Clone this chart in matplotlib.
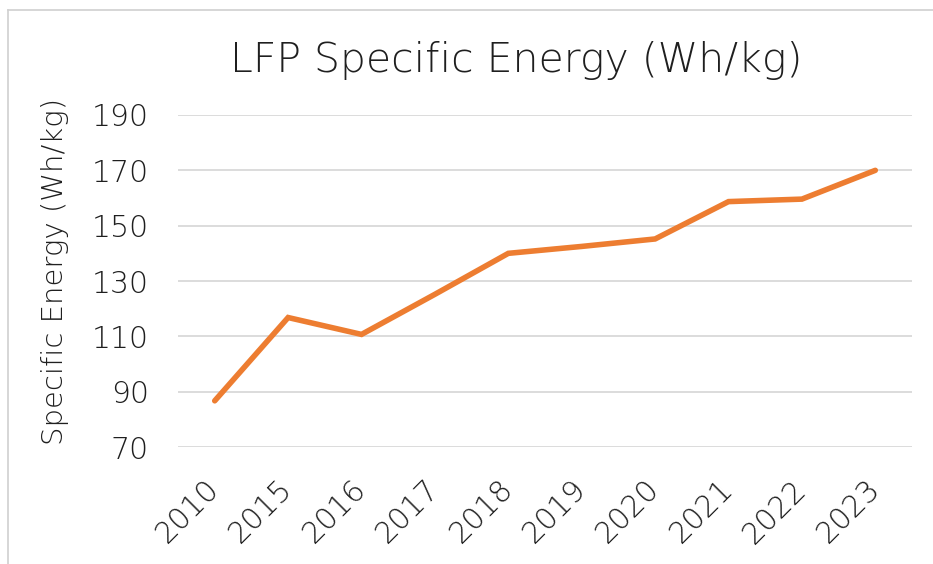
import matplotlib
matplotlib.use("Agg")
import matplotlib.pyplot as plt
from matplotlib.lines import Line2D

years = ["2010", "2015", "2016", "2017", "2018", "2019", "2020", "2021", "2022", "2023"]
energy = [86.7, 116.8, 110.7, 125.2, 140.0, 142.5, 145.2, 158.7, 159.6, 170.0]
yticks = [70, 90, 110, 130, 150, 170, 190]

plt.rcParams["font.family"] = ["DejaVu Sans"]
plt.rcParams["font.weight"] = "light"
plt.rcParams["axes.labelweight"] = "light"
text_color = "#1f1f1f"
grid_color = "#d9d9d9"

fig = plt.figure(figsize=(9.33, 5.64), dpi=100)
ax = fig.add_axes([0.1908, 0.2074, 0.7867, 0.5887])

x = list(range(len(years)))
ax.plot(x, energy, color="#ED7D31", linewidth=4.0, solid_capstyle="round", solid_joinstyle="miter", zorder=3)

ax.set_xlim(-0.5, len(years) - 0.5)
ax.set_ylim(70, 190)
ax.set_yticks(yticks)
ax.set_xticks(x)
ax.set_xticklabels(years, rotation=45, ha="right", va="center", rotation_mode="anchor")
ax.tick_params(axis="both", length=0, labelsize=21.5, colors=text_color)
ax.tick_params(axis="y", pad=21)
ax.tick_params(axis="x", pad=27)
ax.grid(axis="y", color=grid_color, linewidth=1.3)
ax.set_axisbelow(True)
for s in ax.spines.values():
    s.set_visible(False)

ax.set_ylabel("Specific Energy (Wh/kg)", fontsize=21, color=text_color, fontweight="light")
ax.yaxis.set_label_coords(-0.149, 0.53)
fig.text(0.5536, 0.892, "LFP Specific Energy (Wh/kg)", fontsize=29.5, color=text_color, ha="center", va="center")

# light frame around the chart area (left and top edges visible)
fig.add_artist(Line2D([8 / 933, 8 / 933], [0, 1 - 10 / 564], transform=fig.transFigure, color="#d0d0d0", linewidth=1.2))
fig.add_artist(Line2D([8 / 933, 1], [1 - 10 / 564, 1 - 10 / 564], transform=fig.transFigure, color="#d0d0d0", linewidth=1.2))

fig.savefig("out.png", dpi=100)
